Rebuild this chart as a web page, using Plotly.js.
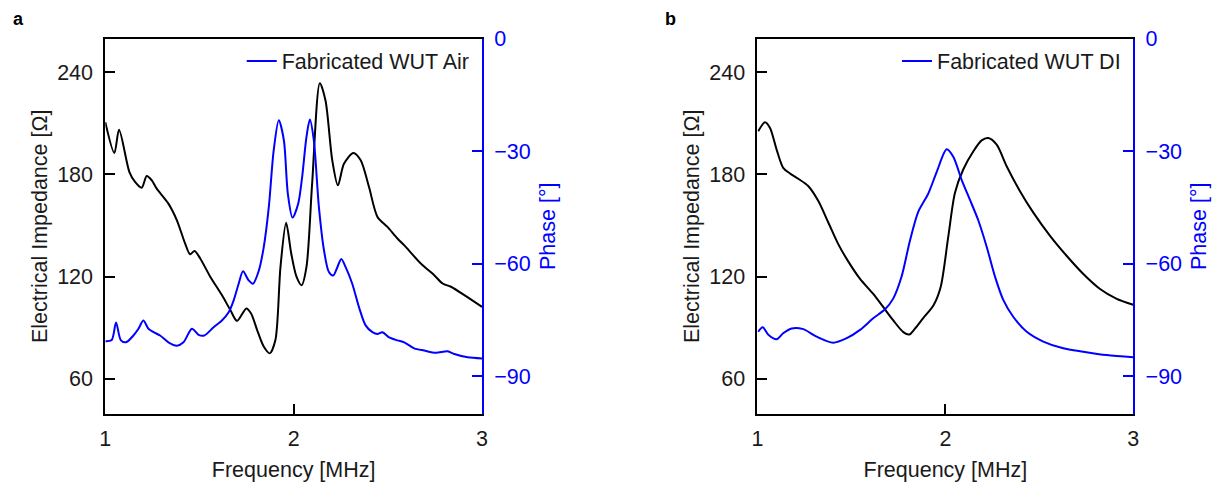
<!DOCTYPE html>
<html>
<head>
<meta charset="utf-8">
<script src="https://cdn.plot.ly/plotly-3.0.1.min.js"></script>
<style>html,body{margin:0;padding:0;background:#fff;}#chart{width:1216px;height:488px;}</style>
</head>
<body>
<div id="chart"></div>
<script>
// Panel a: Fabricated WUT in Air
const freqA_imp = [1.0,1.048,1.073,1.128,1.158,1.193,1.22,1.247,1.273,1.335,1.38,1.424,1.45,1.474,1.504,1.557,1.619,1.664,1.699,1.749,1.774,1.806,1.841,1.873,1.903,1.93,1.96,1.987,2.015,2.042,2.068,2.098,2.139,2.169,2.205,2.235,2.267,2.317,2.356,2.4,2.445,2.498,2.551,2.595,2.675,2.746,2.791,2.835,2.906,3.0];
const impA = [210.7,192.6,206.2,181.4,175.6,172.2,179.1,176.5,171.7,162.9,153.1,139.4,133.2,135.1,130.7,120,109.2,100.4,94.1,101.4,98.4,88.7,79,75,82.8,125.8,151.6,133.6,120,115,125.8,174.6,233.6,223.4,188.3,173.6,186.3,192.6,188.3,172.6,155.1,149.2,142.4,137.5,127.7,120.9,116,114.1,109.2,102.3];
const freqA_ph = [1.0,1.034,1.057,1.082,1.11,1.149,1.176,1.202,1.229,1.256,1.291,1.335,1.38,1.415,1.46,1.495,1.525,1.575,1.619,1.655,1.681,1.708,1.731,1.761,1.784,1.815,1.841,1.868,1.894,1.921,1.948,1.969,1.994,2.024,2.045,2.068,2.086,2.107,2.134,2.161,2.187,2.21,2.232,2.253,2.276,2.311,2.347,2.382,2.418,2.445,2.471,2.507,2.551,2.587,2.64,2.693,2.755,2.817,2.853,2.924,3.0];
const phaseA = [-80.6,-80.3,-75.6,-80.3,-80.9,-79.1,-77.3,-75.1,-77.3,-78.2,-79.1,-80.9,-81.8,-80.9,-77.3,-78.9,-79.1,-76.9,-75.1,-72.9,-69.8,-65.3,-62,-64.4,-65.3,-61.8,-55.6,-44.9,-29.8,-21.8,-27.1,-41.3,-47.7,-44,-36.9,-26.2,-21.6,-27.1,-44.9,-56.4,-62.2,-63.1,-60.9,-58.7,-60.9,-65.3,-71.6,-76.4,-78.2,-78.7,-78.2,-79.6,-80.4,-80.9,-82.5,-83.1,-83.7,-83.3,-84,-84.9,-85.2];

// Panel b: Fabricated WUT in DI water
const freqB_imp = [1.004,1.04,1.067,1.102,1.137,1.173,1.217,1.27,1.324,1.377,1.43,1.483,1.546,1.616,1.67,1.723,1.776,1.808,1.838,1.882,1.936,1.975,2.016,2.051,2.095,2.149,2.193,2.228,2.273,2.326,2.397,2.468,2.557,2.645,2.734,2.823,2.912,3.0];
const impB = [205.3,210.6,207.3,194.6,183.9,180.6,177.5,173.2,164.4,151.8,139.1,129,118.7,109.9,102.1,94.3,87.5,86.1,89.5,95.7,103.1,114,144,169.3,182.9,193.6,200,201.4,197.5,184.8,170.2,157.6,144,132.3,121.6,112.8,107,103.5];
const freqB_ph = [1.004,1.028,1.058,1.102,1.137,1.182,1.244,1.315,1.403,1.475,1.546,1.616,1.679,1.723,1.767,1.812,1.856,1.909,1.954,2.007,2.042,2.087,2.131,2.175,2.22,2.264,2.308,2.361,2.433,2.521,2.627,2.734,2.858,3.0];
const phaseB = [-78.1,-76.9,-78.9,-80.1,-78.5,-77.2,-77.4,-79.4,-81,-79.8,-77.6,-74.5,-72.1,-69.2,-63.4,-53.7,-46.1,-41.3,-35.5,-29.5,-31.5,-37.7,-43,-48.4,-55.5,-63.4,-69.6,-74.1,-78.1,-80.7,-82.5,-83.4,-84.3,-84.9];

const xTicks = [1, 2, 3];
const impTicks = [60, 120, 180, 240];
const phaseTicks = [0, -30, -60, -90];
const legendA = 'Fabricated WUT Air';
const legendB = 'Fabricated WUT DI';

const BLUE = '#0000ff';
const BLACK = '#000000';
const TXT = '#1a1a1a';
const FONT = 'Liberation Sans, Arial, sans-serif';
const FS = 21.5;

const traces = [
  {x: freqA_imp, y: impA, xaxis: 'x', yaxis: 'y', type: 'scatter', mode: 'lines', line: {color: BLACK, width: 2, shape: 'spline', smoothing: 0.8}, showlegend: false},
  {x: freqA_ph, y: phaseA, xaxis: 'x', yaxis: 'y2', type: 'scatter', mode: 'lines', name: legendA, line: {color: BLUE, width: 2, shape: 'spline', smoothing: 0.8}, legend: 'legend'},
  {x: freqB_imp, y: impB, xaxis: 'x2', yaxis: 'y3', type: 'scatter', mode: 'lines', line: {color: BLACK, width: 2, shape: 'spline', smoothing: 0.8}, showlegend: false},
  {x: freqB_ph, y: phaseB, xaxis: 'x2', yaxis: 'y4', type: 'scatter', mode: 'lines', name: legendB, line: {color: BLUE, width: 2, shape: 'spline', smoothing: 0.8}, legend: 'legend2'}
];

const yDom = [0.1516, 0.9211];
const xDomA = [0.0866, 0.3964];
const xDomB = [0.6229, 0.9320];

function xAxis(dom, anchor) {
  return {
    domain: dom, anchor: anchor, range: [1, 3], tickvals: xTicks,
    ticks: 'inside', ticklen: 10, tickwidth: 2, tickcolor: BLACK,
    showline: true, linewidth: 2, linecolor: BLACK, mirror: true,
    showgrid: false, zeroline: false, ticklabelstandoff: 4,
    tickfont: {family: FONT, size: FS, color: TXT},
    title: {text: 'Frequency [MHz]', font: {family: FONT, size: FS, color: TXT}, standoff: 12}
  };
}
function impAxis(anchor) {
  return {
    domain: yDom, anchor: anchor, range: [39.4, 259.8], tickvals: impTicks,
    ticks: 'inside', ticklen: 10, tickwidth: 2, tickcolor: BLACK,
    showline: true, linewidth: 2, linecolor: BLACK,
    showgrid: false, zeroline: false, ticklabelstandoff: 6,
    tickfont: {family: FONT, size: FS, color: TXT},
    title: {text: 'Electrical Impedance [Ω]', font: {family: FONT, size: FS, color: TXT}, standoff: 4}
  };
}
function phaseAxis(anchor, over) {
  return {
    domain: yDom, anchor: anchor, overlaying: over, side: 'right', range: [-100, 0], tickvals: phaseTicks,
    ticks: 'inside', ticklen: 10, tickwidth: 2, tickcolor: BLUE,
    showline: true, linewidth: 2, linecolor: BLUE,
    showgrid: false, zeroline: false, ticklabelstandoff: 6,
    tickfont: {family: FONT, size: FS, color: BLUE},
    title: {text: 'Phase [°]', font: {family: FONT, size: FS, color: BLUE}, standoff: 10}
  };
}

const layout = {
  width: 1216, height: 488,
  margin: {l: 0, r: 0, t: 0, b: 0},
  paper_bgcolor: '#ffffff', plot_bgcolor: '#ffffff',
  font: {family: FONT, color: TXT},
  xaxis: xAxis(xDomA, 'y'),
  yaxis: impAxis('x'),
  yaxis2: phaseAxis('x', 'y'),
  xaxis2: xAxis(xDomB, 'y3'),
  yaxis3: impAxis('x2'),
  yaxis4: phaseAxis('x2', 'y3'),
  legend: {x: xDomA[1] - 0.006, xanchor: 'right', y: yDom[1] - 0.004, yanchor: 'top', bgcolor: 'rgba(0,0,0,0)', font: {family: FONT, size: FS, color: TXT}},
  legend2: {x: xDomB[1] - 0.006, xanchor: 'right', y: yDom[1] - 0.004, yanchor: 'top', bgcolor: 'rgba(0,0,0,0)', font: {family: FONT, size: FS, color: TXT}},
  annotations: [
    {text: '<b>a</b>', xref: 'paper', yref: 'paper', x: 0.009, y: 0.985, xanchor: 'left', yanchor: 'top', showarrow: false, font: {family: FONT, size: 18, color: BLACK}},
    {text: '<b>b</b>', xref: 'paper', yref: 'paper', x: 0.545, y: 0.985, xanchor: 'left', yanchor: 'top', showarrow: false, font: {family: FONT, size: 18, color: BLACK}}
  ],
  showlegend: true
};

Plotly.newPlot('chart', traces, layout, {displayModeBar: false, staticPlot: true});
</script>
</body>
</html>
